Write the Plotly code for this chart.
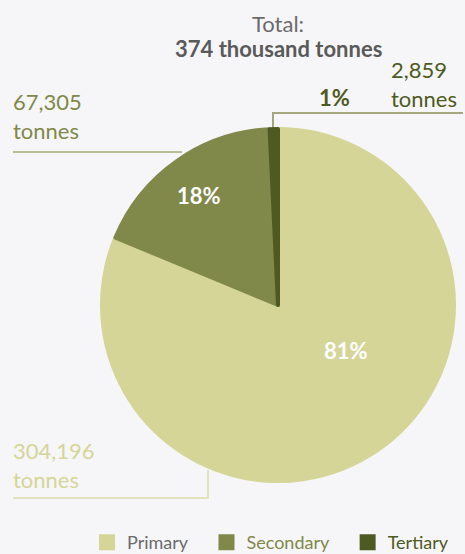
import plotly.graph_objects as go

# ---- data ----
categories = ["Primary", "Secondary", "Tertiary"]
values = [304196, 67305, 2859]
colors = ["#d5d597", "#80884a", "#4e5a22"]
legend_text_colors = ["#6b6b6b", "#80884a", "#4e5a22"]

W, H = 465, 554
total = sum(values)
pcts = [round(v / total * 100) for v in values]


def px(x):
    return x / W


def py(y):
    return 1 - y / H


FONT = "Lato"
BG = "#f6f6f8"

legend_labels = [
    f"<span style='color:{c}'>{n}</span>&nbsp;&nbsp;&nbsp;"
    for n, c in zip(categories, legend_text_colors)
]

fig = go.Figure(
    go.Pie(
        labels=legend_labels,
        values=values,
        sort=False,
        direction="clockwise",
        rotation=0,
        marker=dict(colors=colors, line=dict(width=4, color=colors)),
        textinfo="none",
        hoverinfo="value+percent",
        domain=dict(x=[px(102), px(454)], y=[py(481), py(129)]),
    )
)

ann = []
# Title
ann.append(dict(x=px(278), y=py(23), text="Total:", showarrow=False,
                font=dict(family=FONT, size=22, color="#6b6b6b"), xanchor="center", yanchor="middle"))
ann.append(dict(x=px(278), y=py(48), text=f"<b>{round(total/1000)} thousand tonnes</b>", showarrow=False,
                font=dict(family=FONT, size=22, color="#5a5a5a"), xanchor="center", yanchor="middle"))

# percentages
ann.append(dict(x=px(346), y=py(350), text=f"<b>{pcts[0]}%</b>", showarrow=False,
                font=dict(family=FONT, size=22, color="white"), xanchor="center", yanchor="middle"))
ann.append(dict(x=px(199), y=py(196), text=f"<b>{pcts[1]}%</b>", showarrow=False,
                font=dict(family=FONT, size=22, color="white"), xanchor="center", yanchor="middle"))
ann.append(dict(x=px(334), y=py(97), text=f"<b>{pcts[2]}%</b>", showarrow=False,
                font=dict(family=FONT, size=22, color=colors[2]), xanchor="center", yanchor="middle"))

# value labels
def vlabel(v):
    return f"{v:,}<br>tonnes"

ann.append(dict(x=px(11), y=py(116), text=vlabel(values[1]), showarrow=False, align="left",
                xanchor="left", yanchor="middle",
                font=dict(family=FONT, size=22, color=colors[1])))
ann.append(dict(x=px(389), y=py(84), text=vlabel(values[2]), showarrow=False, align="left",
                xanchor="left", yanchor="middle",
                font=dict(family=FONT, size=22, color=colors[2])))
ann.append(dict(x=px(11), y=py(465), text=vlabel(values[0]), showarrow=False, align="left",
                xanchor="left", yanchor="middle",
                font=dict(family=FONT, size=22, color=colors[0])))

for a in ann:
    a.setdefault("xref", "paper")
    a.setdefault("yref", "paper")

shapes = [
    # tertiary leader
    dict(type="path", path=f"M {px(273)} {py(129)} L {px(273)} {py(113)} L {px(463)} {py(113)}",
         line=dict(color="#a4a77e", width=2)),
    # secondary leader
    dict(type="line", x0=px(13), y0=py(152), x1=px(182), y1=py(152),
         line=dict(color="#b9bd95", width=2)),
    # primary leader
    dict(type="path", path=f"M {px(208)} {py(470)} L {px(208)} {py(498)} L {px(13)} {py(498)}",
         line=dict(color="#e2e2bd", width=2)),
]
for s in shapes:
    s["xref"] = "paper"
    s["yref"] = "paper"
    s["layer"] = "below"

fig.update_layout(
    width=W,
    height=H,
    margin=dict(l=0, r=0, t=0, b=0, autoexpand=False),
    paper_bgcolor=BG,
    plot_bgcolor=BG,
    annotations=ann,
    shapes=shapes,
    showlegend=True,
    legend=dict(
        orientation="h",
        x=px(87),
        xanchor="left",
        y=-7 / H,
        yanchor="bottom",
        font=dict(family=FONT, size=18, color="#6b6b6b"),
        bgcolor="rgba(0,0,0,0)",
        traceorder="normal",
    ),
)

fig.write_html(
    "out.html",
    config={"displayModeBar": False},
    post_script="document.body.style.margin='0';document.documentElement.style.overflow='hidden';document.body.style.overflow='hidden';",
)
